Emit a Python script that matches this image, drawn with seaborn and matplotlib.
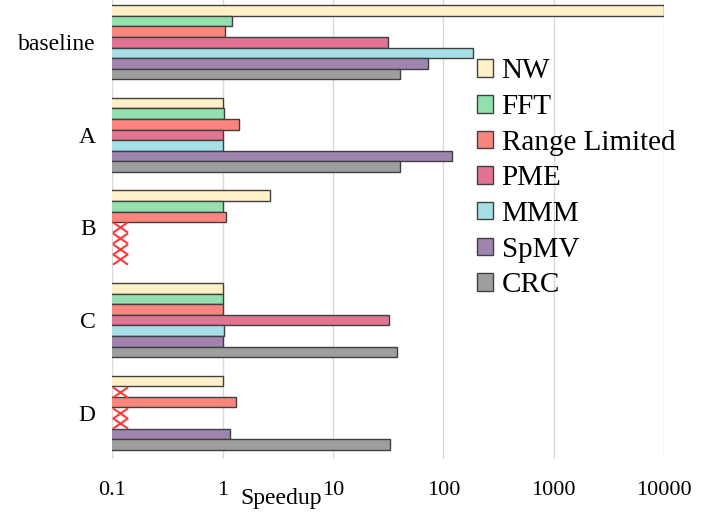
import numpy as np
import pandas as pd
import seaborn as sns
import matplotlib.pyplot as plt
from matplotlib.path import Path

categories = ["baseline", "A", "B", "C", "D"]
series = ["NW", "FFT", "Range Limited", "PME", "MMM", "SpMV", "CRC"]
colors = ["#FFF0C8", "#95E0AF", "#FA857F", "#E47293", "#A6DFE5", "#A084B0", "#9E9E9E"]

nan = np.nan
nw = [10000, 1.0, 2.66, 1.0, 1.0]
fft = [1.21, 1.035, 1.0, 1.0, nan]
range_limited = [1.05, 1.41, 1.065, 1.0, 1.31]
pme = [31.5, 1.0, nan, 32.1, nan]
mmm = [184, 1.0, nan, 1.035, nan]
spmv = [71.9, 119, nan, 1.0, 1.16]
crc = [40.4, 40.6, nan, 38, 33]

tick_vals = [0.1, 1, 10, 100, 1000, 10000]
tick_labels = ["0.1", "1", "10", "100", "1000", "10000"]

values = [nw, fft, range_limited, pme, mmm, spmv, crc]
df = pd.DataFrame({
    "config": np.repeat([categories], len(series), axis=0).ravel(),
    "kernel": np.repeat(series, len(categories)),
    "speedup": np.concatenate(values),
})

sns.set_style("white")
plt.rcParams["font.family"] = ["Liberation Serif", "DejaVu Serif"]
plt.rcParams["text.color"] = "black"
plt.rcParams["xtick.color"] = "black"
plt.rcParams["ytick.color"] = "black"
plt.rcParams["axes.labelcolor"] = "black"

fig = plt.figure(figsize=(7.22, 5.14), dpi=100)
ax = fig.add_axes([0.1558, 0.107, 0.7639, 0.9008])

sns.barplot(data=df.dropna(), y="config", x="speedup", hue="kernel",
            order=categories, hue_order=series, palette=colors,
            orient="h", width=0.8, saturation=1, edgecolor="#404040",
            linewidth=1, ax=ax)
ax.set_xscale("log")
ax.set_xlim(0.1, 10000)
ax.set_ylim(4.5, -0.5)

# red crosses where a kernel has no result
cross = Path([(-1.45, -1), (1.45, 1), (-1.45, 1), (1.45, -1)],
             [Path.MOVETO, Path.LINETO, Path.MOVETO, Path.LINETO])
bw = 0.8 / len(series)
for j, vals in enumerate(values):
    for i, v in enumerate(vals):
        if np.isnan(v):
            ax.scatter(0.117, i - 0.4 + (j + 0.5) * bw, marker=cross, s=118,
                       color="#FF3B3B", linewidths=1.5, zorder=5)

ax.set_xticks(tick_vals, tick_labels)
ax.xaxis.set_minor_locator(plt.NullLocator())
ax.grid(axis="x", color="#d9d9d9", linewidth=1)
ax.set_axisbelow(True)
for s in ax.spines.values():
    s.set_visible(False)
ax.tick_params(axis="x", length=0, pad=16, labelsize=16)
ax.tick_params(axis="y", length=0, pad=12, labelsize=17)
ax.set_ylabel("")
ax.set_xlabel("Speedup", fontsize=17)
ax.xaxis.set_label_coords(0.3055, -0.063)

sns.move_legend(ax, loc="upper left", bbox_to_anchor=(477 / 722, 1 - 58.5 / 514),
                bbox_transform=fig.transFigure, title=None, frameon=False,
                fontsize=21, handlelength=0.55, handleheight=0.55,
                handletextpad=0.29, labelspacing=0.33, borderpad=0,
                borderaxespad=0)

fig.savefig("out.png", dpi=100)
